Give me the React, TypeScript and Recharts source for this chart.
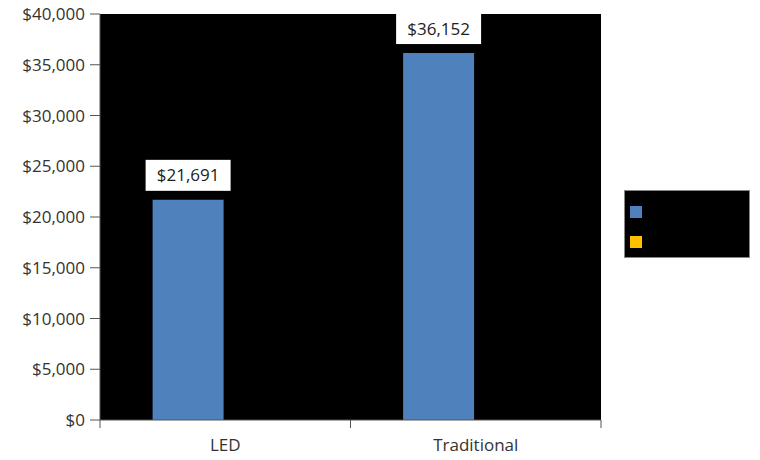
import { Bar, BarChart, CartesianGrid, LabelList, Legend, XAxis, YAxis } from 'recharts'

const categories = ['LED', 'Traditional']
const costValues = [21691, 36152]
const otherValues = [0, 0]
const yTicks = [0, 5000, 10000, 15000, 20000, 25000, 30000, 35000, 40000]

const seriesNames = ['Series1', 'Series2']
const seriesColors = ['#4F81BD', '#FFC000']

const data = categories.map((name, i) => ({ name, cost: costValues[i], other: otherValues[i] }))

const FONT = '"Open Sans", "Noto Sans", sans-serif'
const money = (v: number) => '$' + v.toLocaleString('en-US')

/** Category ticks: label in the middle, tick marks on the band edges like the spreadsheet original. */
function XTick(props: any) {
  const { x, y, payload, index } = props
  const half = payload?.offset || 125
  return (
    <g>
      <line x1={x - half} x2={x - half} y1={y - 8} y2={y} stroke="#555" />
      {index === categories.length - 1 && <line x1={x + half} x2={x + half} y1={y - 8} y2={y} stroke="#555" />}
      <text x={x} y={y + 23} textAnchor="middle" fill="#333" fontSize={17} fontFamily={FONT}>
        {payload.value}
      </text>
    </g>
  )
}

function ValueLabel(props: any) {
  const { x, y, width, value } = props
  const cx = x + width / 2
  const w = 85
  const h = 31
  return (
    <g>
      <rect x={cx - w / 2} y={y - 9 - h} width={w} height={h} fill="#fff" />
      <text x={cx} y={y - 9 - h / 2 + 6} textAnchor="middle" fill="#222" fontSize={17} fontFamily={FONT}>
        {money(value)}
      </text>
    </g>
  )
}

function LegendBox() {
  return (
    <div style={{ background: '#000', width: 126, height: 68, border: '1px solid #888', boxSizing: 'border-box', position: 'relative' }}>
      {seriesNames.map((n, i) => (
        <div key={n} style={{ position: 'absolute', left: 5, top: 11 + i * 30, display: 'flex', alignItems: 'center', fontFamily: FONT, fontSize: 14, color: '#000' }}>
          <span style={{ display: 'inline-block', width: 12, height: 12, background: seriesColors[i], marginRight: 6 }} />
          {n}
        </div>
      ))}
    </div>
  )
}

export default function App() {
  return (
    <div style={{ position: 'absolute', left: 0, top: 0, background: '#fff' }}>
      <BarChart
        width={760}
        height={460}
        data={data}
        margin={{ top: 14, right: 159, bottom: 0, left: 0 }}
        barCategoryGap="21%"
        barGap={4}
      >
        <CartesianGrid fill="#000" stroke="#000" horizontal={false} vertical={false} />
        <XAxis
          dataKey="name"
          axisLine={{ stroke: '#555' }}
          tickLine={false}
          tick={<XTick />}
          height={40}
          interval={0}
        />
        <YAxis
          domain={[0, 40000]}
          ticks={yTicks}
          tickFormatter={money}
          axisLine={{ stroke: '#555' }}
          tickLine={{ stroke: '#555' }}
          tickSize={10}
          tickMargin={5}
          width={100}
          tick={{ fill: '#333', fontSize: 17, fontFamily: FONT }}
          interval={0}
        />
        <Legend
          layout="horizontal"
          verticalAlign="middle"
          align="center"
          content={<LegendBox />}
          wrapperStyle={{ left: 624, top: 190, width: 126 }}
        />
        <Bar dataKey="cost" name={seriesNames[0]} fill={seriesColors[0]} isAnimationActive={false}>
          <LabelList dataKey="cost" content={<ValueLabel />} />
        </Bar>
        <Bar dataKey="other" name={seriesNames[1]} fill={seriesColors[1]} isAnimationActive={false} />
      </BarChart>
    </div>
  )
}
